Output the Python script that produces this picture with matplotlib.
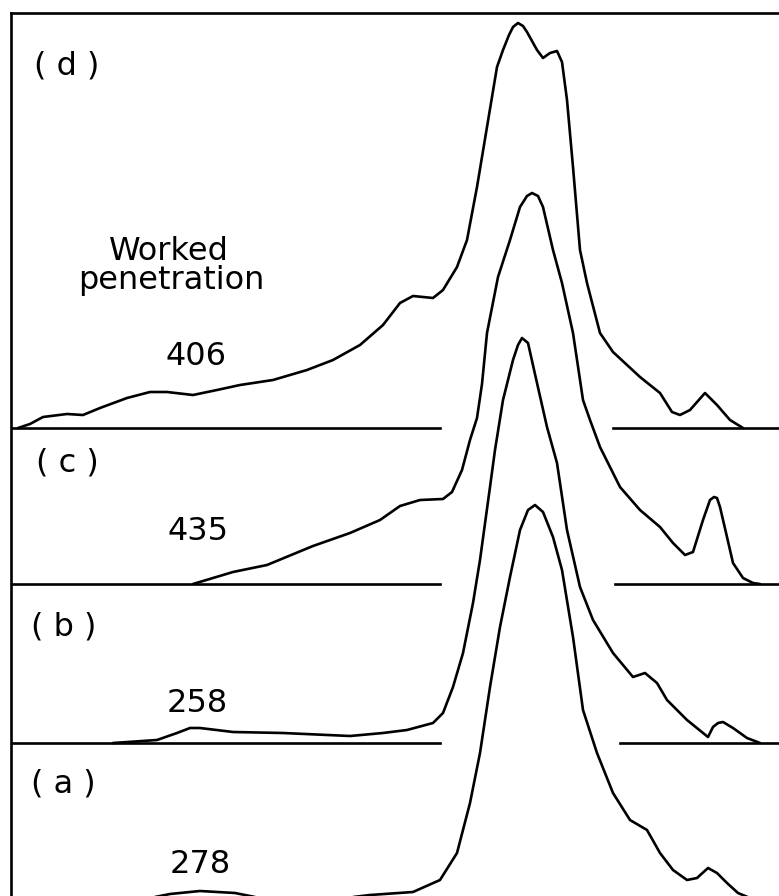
"""Stacked scan-style curves for four worked-penetration samples (a)-(d)."""

import matplotlib

matplotlib.use("Agg")
import matplotlib.pyplot as plt

# --- data: curve heights above each trace's own baseline (arbitrary units) ---
d_x = [18, 30, 43, 67, 83, 100, 127, 150, 167, 193, 217, 240, 273, 307, 333, 360, 383,
       400, 413, 433, 443, 457, 467, 477, 487, 497, 503, 509, 513, 518, 523, 527, 537,
       543, 550, 557, 562, 567, 573, 580, 587, 600, 613, 640, 660, 672, 680, 690, 705,
       717, 730, 743]
d_h = [0, 4, 11, 14, 13, 20, 30, 36, 36, 33, 38, 43, 48, 58, 68, 83, 103,
       125, 132, 130, 138, 161, 188, 241, 301, 361, 378, 393, 401, 405, 402, 396, 378,
       370, 375, 377, 366, 328, 261, 178, 145, 95, 76, 51, 35, 16, 13, 18, 35,
       23, 8, 0]

c_x = [193, 233, 267, 313, 350, 380, 400, 420, 443, 452, 462, 470, 477, 482, 487, 498,
       510, 520, 527, 532, 538, 543, 553, 562, 573, 583, 590, 600, 620, 640, 660, 673,
       685, 693, 703, 710, 714, 717, 720, 727, 733, 743, 753, 760]
c_h = [0, 12, 19, 38, 51, 64, 78, 84, 85, 92, 114, 144, 166, 200, 251, 307,
       344, 377, 388, 391, 388, 377, 334, 301, 251, 184, 164, 137, 97, 74, 57, 41,
       29, 32, 64, 84, 87, 86, 77, 47, 21, 6, 1, 0]

b_x = [113, 157, 177, 190, 200, 233, 283, 350, 383, 407, 433, 443, 453, 463, 473, 480,
       490, 495, 503, 513, 518, 522, 528, 537, 547, 557, 567, 580, 593, 613, 633, 645,
       657, 667, 687, 708, 713, 718, 723, 733, 747, 760]
b_h = [0, 3, 10, 15, 15, 11, 10, 7, 10, 13, 20, 30, 56, 90, 140, 183,
       256, 293, 343, 383, 398, 405, 400, 360, 316, 280, 213, 156, 123, 90, 66, 70,
       60, 43, 23, 6, 16, 20, 21, 15, 5, 0]

a_x = [150, 170, 200, 235, 260, 345, 370, 413, 440, 457, 470, 480, 490, 500, 510, 520,
       528, 535, 543, 553, 562, 573, 583, 597, 613, 630, 647, 660, 673, 687, 697, 708,
       717, 727, 738, 750]
a_h = [0, 4, 7, 5, 0, 0, 3, 6, 18, 45, 95, 145, 211, 271, 321, 368,
       388, 393, 386, 361, 328, 261, 188, 145, 105, 78, 68, 45, 28, 18, 20, 30,
       25, 15, 5, 0]

panel_labels = ["( a )", "( b )", "( c )", "( d )"]
penetration = ["278", "258", "435", "406"]

# --- layout (pixel-like units, y grows downward) ---
BASE_Y = [898, 743, 584, 428]            # baseline of a, b, c, d
GAP_END = [None, 620, 615, 613]          # where the right baseline segment restarts
LABEL_Y = [792, 636, 472, 75]
NUM_Y = [873, 712, 540, 365]
LABEL_X = [63, 64, 67, 67]
NUM_X = [200, 197, 198, 196]
LW = 1.9

fig = plt.figure(figsize=(7.79, 8.96), dpi=100)
ax = fig.add_axes([11 / 779, 0, 768 / 779, 883 / 896])
ax.set_xlim(11, 779)
ax.set_ylim(896, 13)
ax.set_xticks([])
ax.set_yticks([])
for side in ("right", "bottom"):
    ax.spines[side].set_visible(False)
for side in ("left", "top"):
    ax.spines[side].set_linewidth(LW)

font = dict(family="DejaVu Sans", fontsize=23, color="black")
series = [(a_x, a_h), (b_x, b_h), (c_x, c_h), (d_x, d_h)]
for i, (xs, hs) in enumerate(series):
    base = BASE_Y[i]
    ax.plot(xs, [base - h for h in hs], color="black", lw=LW,
            solid_joinstyle="round", solid_capstyle="round")
    if GAP_END[i] is not None:
        ax.plot([11, 440], [base, base], color="black", lw=LW)
        ax.plot([GAP_END[i], 779], [base, base], color="black", lw=LW)
    ax.text(LABEL_X[i], LABEL_Y[i], panel_labels[i], ha="center", va="baseline", **font)
    ax.text(NUM_X[i], NUM_Y[i], penetration[i], ha="center", va="baseline", **font)

ax.text(169, 260, "Worked", ha="center", va="baseline", **font)
ax.text(171, 289, "penetration", ha="center", va="baseline", **font)

fig.savefig("out.png", dpi=100)
